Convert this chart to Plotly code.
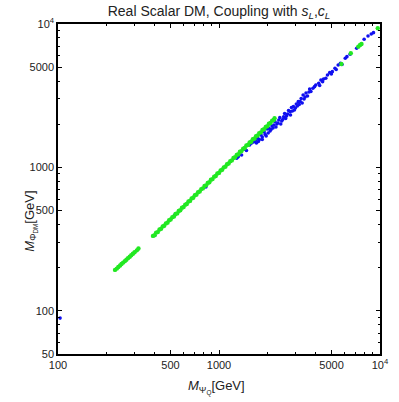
import plotly.graph_objects as go

# blue scan points (M_PsiQ, M_PhiDM) in GeV
blue_mpsi = [103, 399, 531, 829,
             1288, 1317, 1381, 1446, 1481, 1550, 1587, 1638, 1684, 1739, 1781, 1824, 1857,
             1909, 1936, 1991, 2047, 2076, 2134, 2194, 2225, 2288, 2352, 2386, 2453, 2522,
             2557, 2629, 2704, 2768, 2819, 2898, 2939, 3022, 3107, 3150, 3239, 3331, 3377,
             3472, 3546,
             3657, 3830, 3922, 4163, 4297, 4400, 4607, 4718, 4871, 5057, 5251, 5498, 5677,
             6084, 6230, 6523, 7161, 7971, 8426, 8822, 9110,
             1708, 1757, 1857, 1963, 2020, 2105, 2165, 2257, 2320, 2418, 2487, 2594, 2667,
             2780, 2858, 2981, 3065, 3195, 3285, 3425, 3622, 3724, 3992, 4220, 4462, 4987,
             5346, 5811]
blue_mphi = [89, 335, 466, 731,
             1158, 1189, 1221, 1338, 1313, 1434, 1474, 1505, 1541, 1597, 1566, 1683, 1631,
             1767, 1697, 1855, 1875, 1796, 1946, 1977, 2092, 2009, 2142, 2230, 2109, 2258,
             2377, 2284, 2496, 2448, 2619, 2653, 2516, 2770, 2874, 2748, 3026, 3201, 3001,
             3305, 3150,
             3524, 3563, 3656, 3861, 4071, 3962, 4183, 4413, 4578, 4653, 4913, 5178, 5322,
             5768, 5918, 6151, 6773, 7827, 8254, 8522, 8702,
             1481, 1517, 1566, 1657, 1739, 1840, 1884, 1915, 2042, 2009, 2160, 2195, 2359,
             2321, 2476, 2598, 2683, 2883, 2815, 3100, 3358, 3385, 3758, 3728, 4139, 4484,
             4821, 5224]

# green scan points
green_mpsi = [226, 232, 237, 243, 248, 254, 260, 266, 272, 279, 285, 292, 299, 309, 316,
              389, 398, 407, 417, 427, 437, 447, 457, 468, 479, 490, 501, 513, 525, 537,
              550, 562, 575, 589, 603, 617, 631, 646, 661, 676, 692, 708, 724, 741, 759,
              776, 794, 813, 832, 851, 871, 891, 912, 933, 955, 977, 1000, 1023, 1047, 1072,
              1096, 1122, 1148, 1175, 1202, 1230, 1259, 1288, 1318, 1349, 1380, 1413, 1445,
              1479, 1514, 1549, 1585, 1622, 1660, 1698, 1738, 1778, 1820, 1862, 1905, 1950,
              1995, 2042, 2089, 2138, 2188, 2213,
              5756, 6587, 7333, 7518, 7677, 9685]
green_mphi = [193, 197, 202, 207, 212, 217, 222, 227, 233, 238, 244, 250, 256, 264, 272,
              333, 337, 351, 354, 369, 373, 388, 392, 407, 412, 428, 433, 450, 455, 473,
              478, 497, 503, 523, 529, 550, 556, 578, 584, 608, 614, 639, 646, 671, 679,
              706, 714, 742, 750, 780, 788, 820, 829, 862, 871, 906, 916, 952, 963, 1001,
              1012, 1052, 1064, 1106, 1119, 1163, 1176, 1223, 1236, 1285, 1299, 1351, 1366,
              1420, 1436, 1493, 1510, 1570, 1587, 1650, 1669, 1735, 1754, 1823, 1844, 1917,
              1939, 2015, 2038, 2118, 2142, 2200,
              5263, 6250, 6950, 7142, 7258, 9339]

x_tickvals = [100, 500, 1000, 5000, 10000]
x_ticktext = ["100", "500", "1000", "5000", "10<sup>4</sup>"]
y_tickvals = [50, 100, 500, 1000, 5000, 10000]
y_ticktext = ["50", "100", "500", "1000", "5000", "10<sup>4</sup>"]
minor_vals = [60, 70, 80, 90, 200, 300, 400, 600, 700, 800, 900,
              2000, 3000, 4000, 6000, 7000, 8000, 9000]

fig = go.Figure()
fig.add_trace(go.Scatter(x=blue_mpsi, y=blue_mphi, mode="markers",
                         marker=dict(color="#1010f0", size=3.6, line=dict(width=0))))
fig.add_trace(go.Scatter(x=green_mpsi, y=green_mphi, mode="markers",
                         marker=dict(color="#22e822", size=4.4, line=dict(width=0))))

font = dict(family="Liberation Sans, Arial, sans-serif", color="#222222")
axis_common = dict(type="log", showgrid=False, zeroline=False, showline=True,
                   linecolor="black", linewidth=1.5, mirror="allticks",
                   ticks="inside", ticklen=4, tickwidth=1, tickcolor="black",
                   tickfont=dict(size=11, **font),
                   minor=dict(ticks="inside", ticklen=2, tickcolor="black",
                              tickmode="array", tickvals=minor_vals))

fig.update_xaxes(range=[2, 4], tickmode="array", tickvals=x_tickvals,
                 ticktext=x_ticktext, **axis_common)
fig.update_yaxes(range=[1.69897, 4], tickmode="array", tickvals=y_tickvals,
                 ticktext=y_ticktext, **axis_common)

fig.update_layout(
    width=399, height=402,
    margin=dict(l=58, r=10, t=24, b=48),
    plot_bgcolor="white", paper_bgcolor="white",
    showlegend=False,
    font=font,
    title=dict(text="Real Scalar DM, Coupling with <i>s</i><sub><i>L</i></sub>,<i>c</i><sub><i>L</i></sub>",
               x=0.5, xref="paper", xanchor="center",
               y=0.973, yref="container", yanchor="middle",
               font=dict(size=14, **font)),
    annotations=[
        dict(text="<i>M</i><sub>Ψ<sub>Q</sub></sub>[GeV]", xref="paper", yref="paper",
             x=0.492, y=-0.103, xanchor="center", yanchor="middle", showarrow=False,
             font=dict(size=13, **font)),
        dict(text="<i>M</i><sub>Φ<sub>DM</sub></sub>[GeV]", xref="paper", yref="paper",
             x=-0.085, y=0.403, xanchor="center", yanchor="middle", showarrow=False,
             textangle=-90, font=dict(size=13, **font)),
    ],
)

# drop the default page margin so the figure sits at the window corner
fig.write_html("out.html", config={"displayModeBar": False},
               post_script="document.body.style.margin='0px';")
